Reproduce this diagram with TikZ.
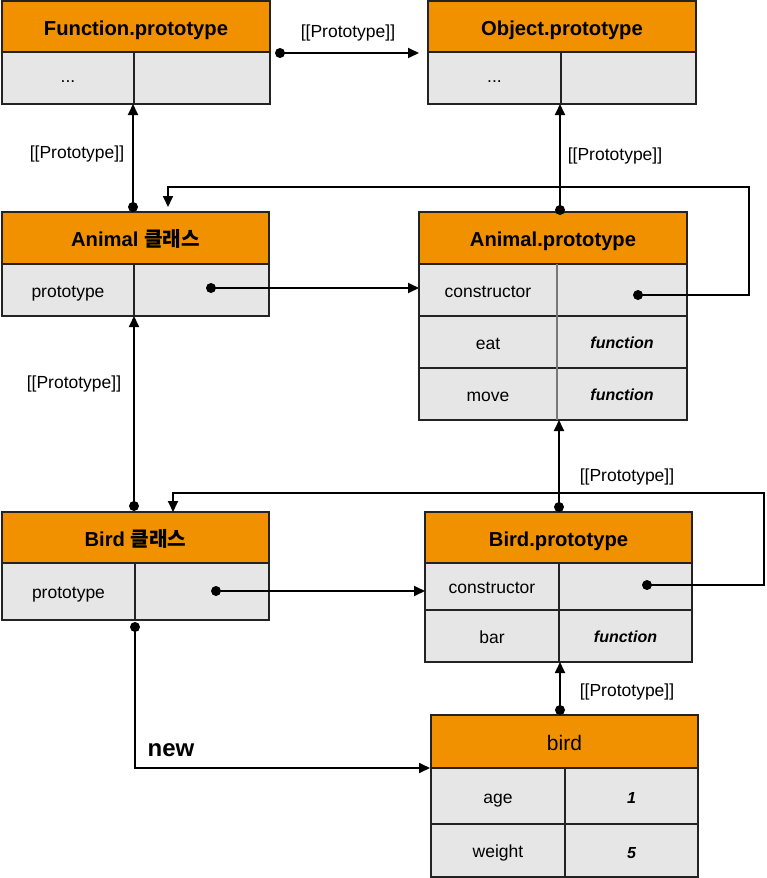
\documentclass[tikz,border=0pt]{standalone}
\usepackage{fontspec}
\setmainfont{Liberation Sans}
\newfontfamily\kr{Noto Sans CJK KR}
\usetikzlibrary{arrows.meta,calc}
\definecolor{hdrorange}{RGB}{241,145,0}
\definecolor{cellgrey}{RGB}{230,230,230}
\definecolor{edgegrey}{RGB}{35,35,35}
\definecolor{divgrey}{RGB}{120,120,120}
\begin{document}
\begin{tikzpicture}[x=1pt,y=-1pt,
 box/.style={draw=edgegrey, line width=1.1pt, inner sep=0pt, anchor=north west, outer sep=0pt},
 hdr/.style={box, fill=hdrorange, font=\fontsize{20.2}{24}\selectfont\bfseries, text height=17pt, text depth=0pt},
 cell/.style={box, fill=cellgrey, font=\fontsize{17.5}{20}\selectfont, text height=14pt, text depth=0pt},
 ital/.style={cell, font=\fontsize{16}{20}\selectfont\bfseries\itshape, text height=13pt},
 conn/.style={line width=1.8pt, -{Triangle[length=11pt,width=10pt]}},
 lbl/.style={font=\fontsize{17.5}{20}\selectfont, inner sep=0pt},
 dot/.style={circle, fill=black, inner sep=0pt, minimum size=10pt}
]
\useasboundingbox (0,0) rectangle (766,878);

% Function.prototype
\node[hdr, minimum width=268, minimum height=51] (fpH) at (2,1) {Function.prototype};
\node[cell, minimum width=132, minimum height=52, text height=9pt] (fpA) at (2,52) {...};
\node[cell, minimum width=136, minimum height=52] (fpB) at (134,52) {};

% Object.prototype
\node[hdr, minimum width=268, minimum height=51] (opH) at (428,1) {Object.prototype};
\node[cell, minimum width=133, minimum height=52, text height=9pt] (opA) at (428,52) {...};
\node[cell, minimum width=135, minimum height=52] (opB) at (561,52) {};

% Animal class
\node[hdr, minimum width=267, minimum height=52] (acH) at (2,212) {Animal {\kr 클래스}};
\node[cell, minimum width=132, minimum height=52] (acA) at (2,264) {prototype};
\node[cell, minimum width=135, minimum height=52] (acB) at (134,264) {};

% Animal.prototype
\node[hdr, minimum width=268, minimum height=52] (apH) at (419,212) {Animal.prototype};
\node[cell, minimum width=138, minimum height=52] (apA) at (419,264) {constructor};
\node[cell, minimum width=130, minimum height=52] (apB) at (557,264) {};
\node[cell, minimum width=138, minimum height=52] (apC) at (419,316) {eat};
\node[ital, minimum width=130, minimum height=52] (apD) at (557,316) {function};
\node[cell, minimum width=138, minimum height=52] (apE) at (419,368) {move};
\node[ital, minimum width=130, minimum height=52] (apF) at (557,368) {function};
\draw[divgrey, line width=1.3pt] (apB.north west) -- (apF.south west);

% Bird class
\node[hdr, minimum width=267, minimum height=51] (bcH) at (2,512) {Bird {\kr 클래스}};
\node[cell, minimum width=133, minimum height=57] (bcA) at (2,563) {prototype};
\node[cell, minimum width=134, minimum height=57] (bcB) at (135,563) {};

% Bird.prototype
\node[hdr, minimum width=267, minimum height=51] (bpH) at (425,512) {Bird.prototype};
\node[cell, minimum width=134, minimum height=47] (bpA) at (425,563) {constructor};
\node[cell, minimum width=133, minimum height=47] (bpB) at (559,563) {};
\node[cell, minimum width=134, minimum height=52] (bpC) at (425,610) {bar};
\node[ital, minimum width=133, minimum height=52] (bpD) at (559,610) {function};

% bird
\node[hdr, minimum width=267, minimum height=53, font=\fontsize{21}{24}\selectfont] (bH) at (431,715) {bird};
\node[cell, minimum width=134, minimum height=56] (bA) at (431,768) {age};
\node[ital, minimum width=133, minimum height=56, text height=15pt] (bB) at (565,768) {1};
\node[cell, minimum width=134, minimum height=53] (bC) at (431,824) {weight};
\node[ital, minimum width=133, minimum height=53, text height=15pt] (bD) at (565,824) {5};

% dots
\node[dot] (dA) at (280,53) {};
\node[dot] (dB) at (133,207) {};
\node[dot] (dC) at (560,210) {};
\node[dot] (dD) at (638,295) {};
\node[dot] (dE) at (211,288) {};
\node[dot] (dF) at (134,506) {};
\node[dot] (dG) at (559,507) {};
\node[dot] (dH) at (647,585) {};
\node[dot] (dI) at (216,591) {};
\node[dot] (dJ) at (135,627) {};
\node[dot] (dK) at (560,710) {};

\coordinate (kD1) at (749,187);
\coordinate (kD2) at (168,187);
\coordinate (kH1) at (764,493);
\coordinate (kH2) at (173,493);
\coordinate (kJ) at (135,768);

% connectors
\draw[conn] (dA.center) -- ($(opH.south west)+(-9,1)$);
\draw[conn] (dB.center) -- (dB |- fpA.south);
\draw[conn] (dC.center) -- (dC |- opA.south);
\draw[conn] (dD.center) -- (dD -| kD1) -- (kD1) -- (kD2) -- ($(kD2 |- acH.north)+(0,-5)$);
\draw[conn] (dE.center) -- (dE -| apA.west);
\draw[conn] (dF.center) -- (dF |- acA.south);
\draw[conn] (dG.center) -- (dG |- apE.south);
\draw[conn] (dH.center) -- (dH -| kH1) -- (kH1) -- (kH2) -- (kH2 |- bcH.north);
\draw[conn] (dI.center) -- (dI -| bpA.west);
\draw[conn] (dJ.center) -- (kJ) -- ($(kJ -| bA.west)+(-1,0)$);
\draw[conn] (dK.center) -- (dK |- bpC.south);

% labels
\node[lbl] (lA) at (348,33) {[[Prototype]]};
\node[lbl] (lB) at (77,154) {[[Prototype]]};
\node[lbl] (lC) at (615,156) {[[Prototype]]};
\node[lbl] (lF) at (74,384) {[[Prototype]]};
\node[lbl] (lG) at (627,477) {[[Prototype]]};
\node[lbl] (lK) at (627,692) {[[Prototype]]};
\node[font=\fontsize{24}{28}\selectfont\bfseries, inner sep=0pt] (lnew) at (171,750) {new};
\end{tikzpicture}
\end{document}
